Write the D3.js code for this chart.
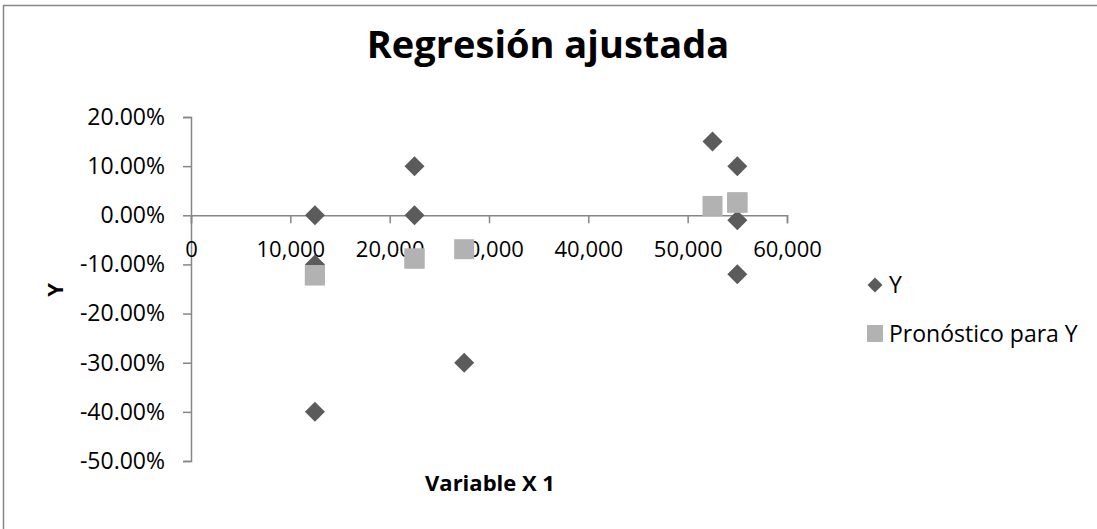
<!DOCTYPE html>
<html>
<head>
<meta charset="utf-8">
<script src="https://cdn.jsdelivr.net/npm/d3@7"></script>
<style>
  body { margin: 0; background: #fff; }
  text { font-family: "Open Sans", sans-serif; }
</style>
</head>
<body>
<div id="container"></div>
<script>

// Data
const xValues = [12475, 12475, 12475, 22500, 22500, 27500, 52500, 55000, 55000, 55000];
const yValues = [0.00, -0.10, -0.40, 0.00, 0.10, -0.30, 0.15, 0.10, -0.01, -0.12];
const yPredicted = [-0.122, -0.122, -0.122, -0.088, -0.088, -0.069, 0.019, 0.026, 0.026, 0.026];
const xTicks = [0, 10000, 20000, 30000, 40000, 50000, 60000];
const yTicks = [0.2, 0.1, 0, -0.1, -0.2, -0.3, -0.4, -0.5];
const seriesNames = ["Y", "Pronóstico para Y"];

const width = 1097;
const height = 529;

const marginLeft = 191;
const plotRight = 787;
const plotTop = 117;
const plotBottom = 461;

const x = d3.scaleLinear()
    .domain([0, 60000])
    .range([marginLeft, plotRight]);

const y = d3.scaleLinear()
    .domain([-0.5, 0.2])
    .range([plotBottom, plotTop]);

const axisColor = "#868686";
const diamondColor = "#5b5b5b";
const squareColor = "#b2b2b2";

// Excel-like formats with a plain hyphen for negatives
const pct = d => (d < 0 ? "-" : "") + Math.abs(d * 100).toFixed(2) + "%";
const thousands = d => d3.format(",")(d);

const svg = d3.create("svg")
    .attr("width", width)
    .attr("height", height);

container.append(svg.node());

// Outer chart frame (right and bottom edges fall outside the crop)
svg.append("rect")
    .attr("x", 3.5)
    .attr("y", 5.5)
    .attr("width", width + 10)
    .attr("height", height + 10)
    .attr("fill", "none")
    .attr("stroke", axisColor)
    .attr("stroke-width", 1.5);

// Title
svg.append("text")
    .attr("x", 548)
    .attr("y", 58)
    .attr("text-anchor", "middle")
    .attr("font-size", 38)
    .attr("font-weight", "bold")
    .attr("fill", "#000")
    .text("Regresión ajustada");

// Y axis
const yAxis = svg.append("g")
    .attr("transform", `translate(${marginLeft},0)`)
    .call(d3.axisLeft(y).tickValues(yTicks).tickSize(8).tickPadding(18).tickFormat(pct));
yAxis.select(".domain").attr("stroke", axisColor).attr("stroke-width", 1.5);
yAxis.selectAll(".tick line").attr("stroke", axisColor).attr("stroke-width", 1.5);
yAxis.selectAll(".tick text")
    .attr("font-size", 23)
    .attr("font-family", "Open Sans, sans-serif")
    .attr("fill", "#000");

// X axis, crossing at y = 0
const xAxis = svg.append("g")
    .attr("transform", `translate(0,${y(0)})`)
    .call(d3.axisBottom(x).tickValues(xTicks).tickSize(8).tickPadding(18).tickFormat(thousands));
xAxis.select(".domain").attr("stroke", axisColor).attr("stroke-width", 1.5);
xAxis.selectAll(".tick line").attr("stroke", axisColor).attr("stroke-width", 1.5);
xAxis.selectAll(".tick text")
    .attr("font-size", 22)
    .attr("font-family", "Open Sans, sans-serif")
    .attr("fill", "#000");

// Axis titles
svg.append("text")
    .attr("transform", "translate(63,290) rotate(-90)")
    .attr("text-anchor", "middle")
    .attr("font-size", 22)
    .attr("font-weight", "bold")
    .text("Y");

svg.append("text")
    .attr("x", 490)
    .attr("y", 491)
    .attr("text-anchor", "middle")
    .attr("font-size", 22)
    .attr("font-weight", "bold")
    .text("Variable X 1");

// Observed Y (diamonds)
const diamond = d3.symbol().type(d3.symbolSquare).size(200);
svg.append("g")
  .selectAll("path")
  .data(xValues.map((d, i) => [d, yValues[i]]))
  .join("path")
    .attr("d", diamond)
    .attr("transform", d => `translate(${x(d[0])},${y(d[1])}) rotate(45)`)
    .attr("fill", diamondColor);

// Predicted Y (squares)
const square = d3.symbol().type(d3.symbolSquare).size(400);
svg.append("g")
  .selectAll("path")
  .data(xValues.map((d, i) => [d, yPredicted[i]]))
  .join("path")
    .attr("d", square)
    .attr("transform", d => `translate(${x(d[0])},${y(d[1])})`)
    .attr("fill", squareColor);

// Legend
const legend = svg.append("g");
legend.append("path")
    .attr("d", d3.symbol().type(d3.symbolSquare).size(112))
    .attr("transform", "translate(875,285) rotate(45)")
    .attr("fill", diamondColor);
legend.append("text")
    .attr("x", 889)
    .attr("y", 293)
    .attr("font-size", 23)
    .text(seriesNames[0]);
legend.append("rect")
    .attr("x", 867)
    .attr("y", 325)
    .attr("width", 16)
    .attr("height", 17)
    .attr("fill", squareColor);
legend.append("text")
    .attr("x", 889)
    .attr("y", 342)
    .attr("font-size", 23)
    .text(seriesNames[1]);

</script>
</body>
</html>
